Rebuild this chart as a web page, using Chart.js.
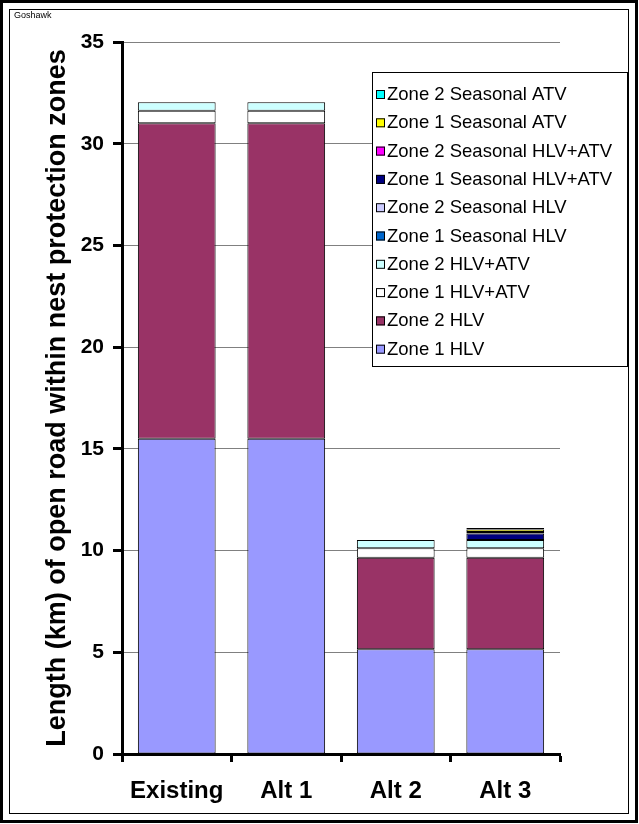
<!DOCTYPE html>
<html>
<head>
<meta charset="utf-8">
<script src="https://cdn.jsdelivr.net/npm/chart.js@4"></script>
<style>
  body { margin: 0; background: #fff; }
  canvas { display: block; }
</style>
</head>
<body>
<canvas id="chart" width="639" height="824"></canvas>
<script>
// categories and values (km)
const categories = ["Existing", "Alt 1", "Alt 2", "Alt 3"];
const zone1HLV = [15.5, 15.5, 5.15, 5.15];
const zone2HLV = [15.5, 15.5, 4.5, 4.5];
const zone1HLVATV = [0.62, 0.62, 0.46, 0.46];
const zone2HLVATV = [0.42, 0.42, 0.41, 0.41];
const zone1SeasonalHLV = [0, 0, 0, 0];
const zone2SeasonalHLV = [0, 0, 0, 0];
const zone1SeasonalHLVATV = [0, 0, 0, 0.32];
const zone2SeasonalHLVATV = [0, 0, 0, 0.07];
const zone1SeasonalATV = [0, 0, 0, 0.12];
const zone2SeasonalATV = [0, 0, 0, 0.08];
const yTicks = [0, 5, 10, 15, 20, 25, 30, 35];

const FONT = "'Liberation Sans', Arial, sans-serif";

function series(label, data, color) {
  return {
    label: label,
    data: data,
    backgroundColor: color,
    borderColor: "#000",
    borderWidth: (ctx) => (ctx.raw ? 1 : 0),
    borderSkipped: false,
    barPercentage: 0.71,
    categoryPercentage: 1.0,
  };
}

const datasets = [
  series("Zone 1 HLV", zone1HLV, "#9999FF"),
  series("Zone 2 HLV", zone2HLV, "#993366"),
  series("Zone 1 HLV+ATV", zone1HLVATV, "#FFFFFF"),
  series("Zone 2 HLV+ATV", zone2HLVATV, "#CCFFFF"),
  series("Zone 1 Seasonal HLV", zone1SeasonalHLV, "#0066CC"),
  series("Zone 2 Seasonal HLV", zone2SeasonalHLV, "#CCCCFF"),
  series("Zone 1 Seasonal HLV+ATV", zone1SeasonalHLVATV, "#000080"),
  series("Zone 2 Seasonal HLV+ATV", zone2SeasonalHLVATV, "#FF00FF"),
  series("Zone 1 Seasonal ATV", zone1SeasonalATV, "#FFFF00"),
  series("Zone 2 Seasonal ATV", zone2SeasonalATV, "#00FFFF"),
];

// frame, small title and the boxed legend
const decorations = {
  id: "decorations",
  afterDraw(chart) {
    const ctx = chart.ctx;
    ctx.save();
    ctx.strokeStyle = "#000";
    ctx.lineWidth = 3;
    ctx.strokeRect(1.5, 1.5, 635, 820);
    ctx.lineWidth = 1;
    ctx.strokeRect(9.5, 9.5, 619, 804);

    ctx.fillStyle = "#000";
    ctx.font = "9px " + FONT;
    ctx.textBaseline = "middle";
    ctx.fillText("Goshawk", 14, 16);

    // legend
    const lx = 372, ly = 72, lw = 255, lh = 294;
    ctx.fillStyle = "#fff";
    ctx.fillRect(lx, ly, lw, lh);
    ctx.strokeStyle = "#000";
    ctx.strokeRect(lx + 0.5, ly + 0.5, lw, lh);
    ctx.font = "18.5px " + FONT;
    const items = chart.data.datasets.slice().reverse();
    items.forEach((ds, i) => {
      const y = 94 + i * 28.3;
      ctx.fillStyle = ds.backgroundColor;
      ctx.fillRect(376, y - 4, 9, 9);
      ctx.strokeStyle = "#000";
      ctx.strokeRect(376.5, y - 3.5, 8, 8);
      ctx.fillStyle = "#000";
      ctx.fillText(ds.label, 387, y + 1);
    });
    ctx.restore();
  },
};

new Chart(document.getElementById("chart"), {
  type: "bar",
  data: { labels: categories, datasets: datasets },
  plugins: [decorations],
  options: {
    responsive: false,
    animation: false,
    layout: { padding: { left: 0, top: 42, right: 79, bottom: 0 } },
    plugins: {
      legend: { display: false },
      tooltip: { enabled: false },
    },
    scales: {
      x: {
        stacked: true,
        afterFit: (scale) => { scale.height = 70; },
        grid: {
          offset: true,
          drawOnChartArea: false,
          drawTicks: true,
          tickLength: 8,
          tickColor: "#000",
          tickWidth: 3,
        },
        border: { display: true, color: "#000", width: 3 },
        ticks: {
          color: "#000",
          padding: 15,
          font: { family: FONT, size: 24, weight: "bold" },
        },
      },
      y: {
        stacked: true,
        min: 0,
        max: 35,
        afterFit: (scale) => { scale.width = 122; },
        afterBuildTicks: (scale) => {
          scale.ticks = yTicks.map((v) => ({ value: v }));
        },
        grid: {
          color: "#808080",
          lineWidth: 1,
          drawTicks: true,
          tickLength: 9,
          tickColor: "#000",
          tickWidth: 3,
        },
        border: { display: true, color: "#000", width: 3 },
        ticks: {
          color: "#000",
          padding: 9,
          font: { family: FONT, size: 21, weight: "bold" },
        },
        title: {
          display: true,
          text: "Length (km) of open road within nest protection zones",
          color: "#000",
          padding: { top: 41, bottom: 0 },
          font: { family: FONT, size: 27, weight: "bold" },
        },
      },
    },
  },
});
</script>
</body>
</html>
